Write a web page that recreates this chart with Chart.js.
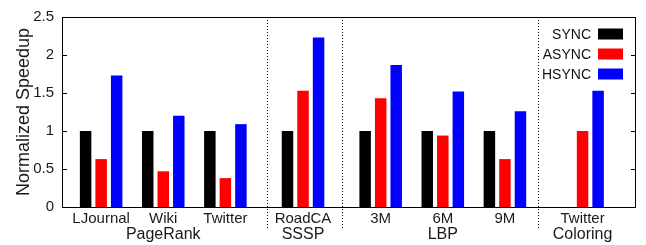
<!DOCTYPE html>
<html>
<head>
<meta charset="utf-8">
<script src="https://cdn.jsdelivr.net/npm/chart.js@4.4.1/dist/chart.umd.min.js"></script>
<style>
  html, body { margin:0; padding:0; background:#fff; }
  #wrap { width:646px; height:245px; }
</style>
</head>
<body>
<div id="wrap"><canvas id="chart" width="646" height="245"></canvas></div>
<script>
// —————— DATA ——————
const categories = ['LJournal', 'Wiki', 'Twitter', 'RoadCA', '3M', '6M', '9M', 'Twitter'];
const groupOf    = [0, 0, 0, 1, 2, 2, 2, 3];
const groups     = ['PageRank', 'SSSP', 'LBP', 'Coloring'];
const seriesNames = ['SYNC', 'ASYNC', 'HSYNC'];
const syncVals   = [1, 1, 1, 1, 1, 1, 1, null];
const asyncVals  = [0.63, 0.47, 0.38, 1.53, 1.43, 0.94, 0.63, 1.0];
const hsyncVals  = [1.73, 1.20, 1.09, 2.23, 1.87, 1.52, 1.26, 1.53];
const yTicks     = [0, 0.5, 1, 1.5, 2, 2.5];
// dotted group separators, in x-axis units
const separators = [2.67, 3.87, 7.04];

const FONT = "'Liberation Sans', Arial, Helvetica, sans-serif";
const colors = ['#000000', '#ff0000', '#0000ff'];

// —————— LAYOUT HELPERS ——————
// slots: 1 unit inside a group, 1.25 between groups
const xPos = [];
categories.forEach((c, i) => {
  if (i === 0) xPos.push(0);
  else xPos.push(xPos[i - 1] + (groupOf[i] === groupOf[i - 1] ? 1 : 1.25));
});
// group label goes under the middle member
const groupPos = groups.map((g, gi) => {
  const idx = groupOf.map((v, i) => v === gi ? i : -1).filter(i => i >= 0);
  return xPos[idx[Math.floor(idx.length / 2)]];
});

const toPoints = vals => vals.map((v, i) => ({ x: xPos[i], y: v }));

// —————— PLUGINS ——————
const framePlugin = {
  id: 'frame',
  afterDraw(chart) {
    const { ctx, chartArea: a, scales: { x, y } } = chart;
    ctx.save();
    ctx.strokeStyle = '#000';
    ctx.lineWidth = 1;
    ctx.strokeRect(Math.round(a.left) + 0.5, Math.round(a.top) + 0.5,
                   Math.round(a.right - a.left) - 1, Math.round(a.bottom - a.top));
    // inward ticks, left and right
    yTicks.forEach(v => {
      const py = Math.round(y.getPixelForValue(v)) + 0.5;
      ctx.beginPath();
      ctx.moveTo(a.left, py); ctx.lineTo(a.left + 5, py);
      ctx.moveTo(a.right - 5, py); ctx.lineTo(a.right, py);
      ctx.stroke();
    });
    // dotted separators
    ctx.setLineDash([1, 2]);
    separators.forEach(v => {
      const px = Math.round(x.getPixelForValue(v)) + 0.5;
      ctx.beginPath();
      ctx.moveTo(px, a.top);
      ctx.lineTo(px, a.bottom + 23);
      ctx.stroke();
    });
    ctx.setLineDash([]);
    // legend: text right-aligned, box to the right
    ctx.font = '14px ' + FONT;
    ctx.textAlign = 'right';
    ctx.textBaseline = 'middle';
    chart.data.datasets.forEach((ds, i) => {
      const cy = a.top + 17 + 20 * i;
      ctx.fillStyle = '#111';
      ctx.fillText(ds.label, a.right - 45, cy + 1);
      ctx.fillStyle = ds.backgroundColor;
      ctx.fillRect(a.right - 38, cy - 5.5, 25, 11);
    });
    ctx.restore();
  }
};

// —————— CHART ——————
new Chart(document.getElementById('chart'), {
  type: 'bar',
  data: {
    datasets: [syncVals, asyncVals, hsyncVals].map((vals, i) => ({
      label: seriesNames[i],
      data: toPoints(vals),
      backgroundColor: colors[i],
      borderWidth: 0,
      categoryPercentage: 0.75,
      barPercentage: 0.74
    }))
  },
  options: {
    responsive: false,
    animation: false,
    layout: { padding: { top: 9, right: 10, left: 0, bottom: 0 } },
    plugins: { legend: { display: false }, tooltip: { enabled: false } },
    scales: {
      x: {
        type: 'linear', position: 'bottom', min: -0.63, max: 8.61, offset: false,
        afterBuildTicks: s => { s.ticks = xPos.map(v => ({ value: v })); },
        afterFit: s => { s.height = 18; },
        grid: { display: false, drawTicks: false, offset: false },
        border: { display: false },
        ticks: {
          autoSkip: false, maxRotation: 0, padding: 3, color: '#1a1a1a',
          font: { family: FONT, size: 15 },
          callback: (v, i) => categories[i]
        }
      },
      x2: {
        type: 'linear', position: 'bottom', min: -0.63, max: 8.61, offset: false,
        afterBuildTicks: s => { s.ticks = groupPos.map(v => ({ value: v })); },
        afterFit: s => { s.height = 20; },
        grid: { display: false, drawTicks: false, offset: false },
        border: { display: false },
        ticks: {
          autoSkip: false, maxRotation: 0, padding: 0, color: '#1a1a1a',
          font: { family: FONT, size: 16 },
          callback: (v, i) => groups[i]
        }
      },
      y: {
        min: 0, max: 2.5,
        afterBuildTicks: s => { s.ticks = yTicks.map(v => ({ value: v })); },
        afterFit: s => { s.width = 62; },
        grid: { display: false, drawTicks: false },
        border: { display: false },
        ticks: {
          padding: 8, color: '#1a1a1a',
          font: { family: FONT, size: 15 },
          callback: v => String(v)
        },
        title: {
          display: true, text: 'Normalized Speedup', color: '#1a1a1a',
          font: { family: FONT, size: 18 },
          padding: { top: 13, bottom: 0 }
        }
      }
    }
  },
  plugins: [framePlugin]
});
</script>
</body>
</html>
